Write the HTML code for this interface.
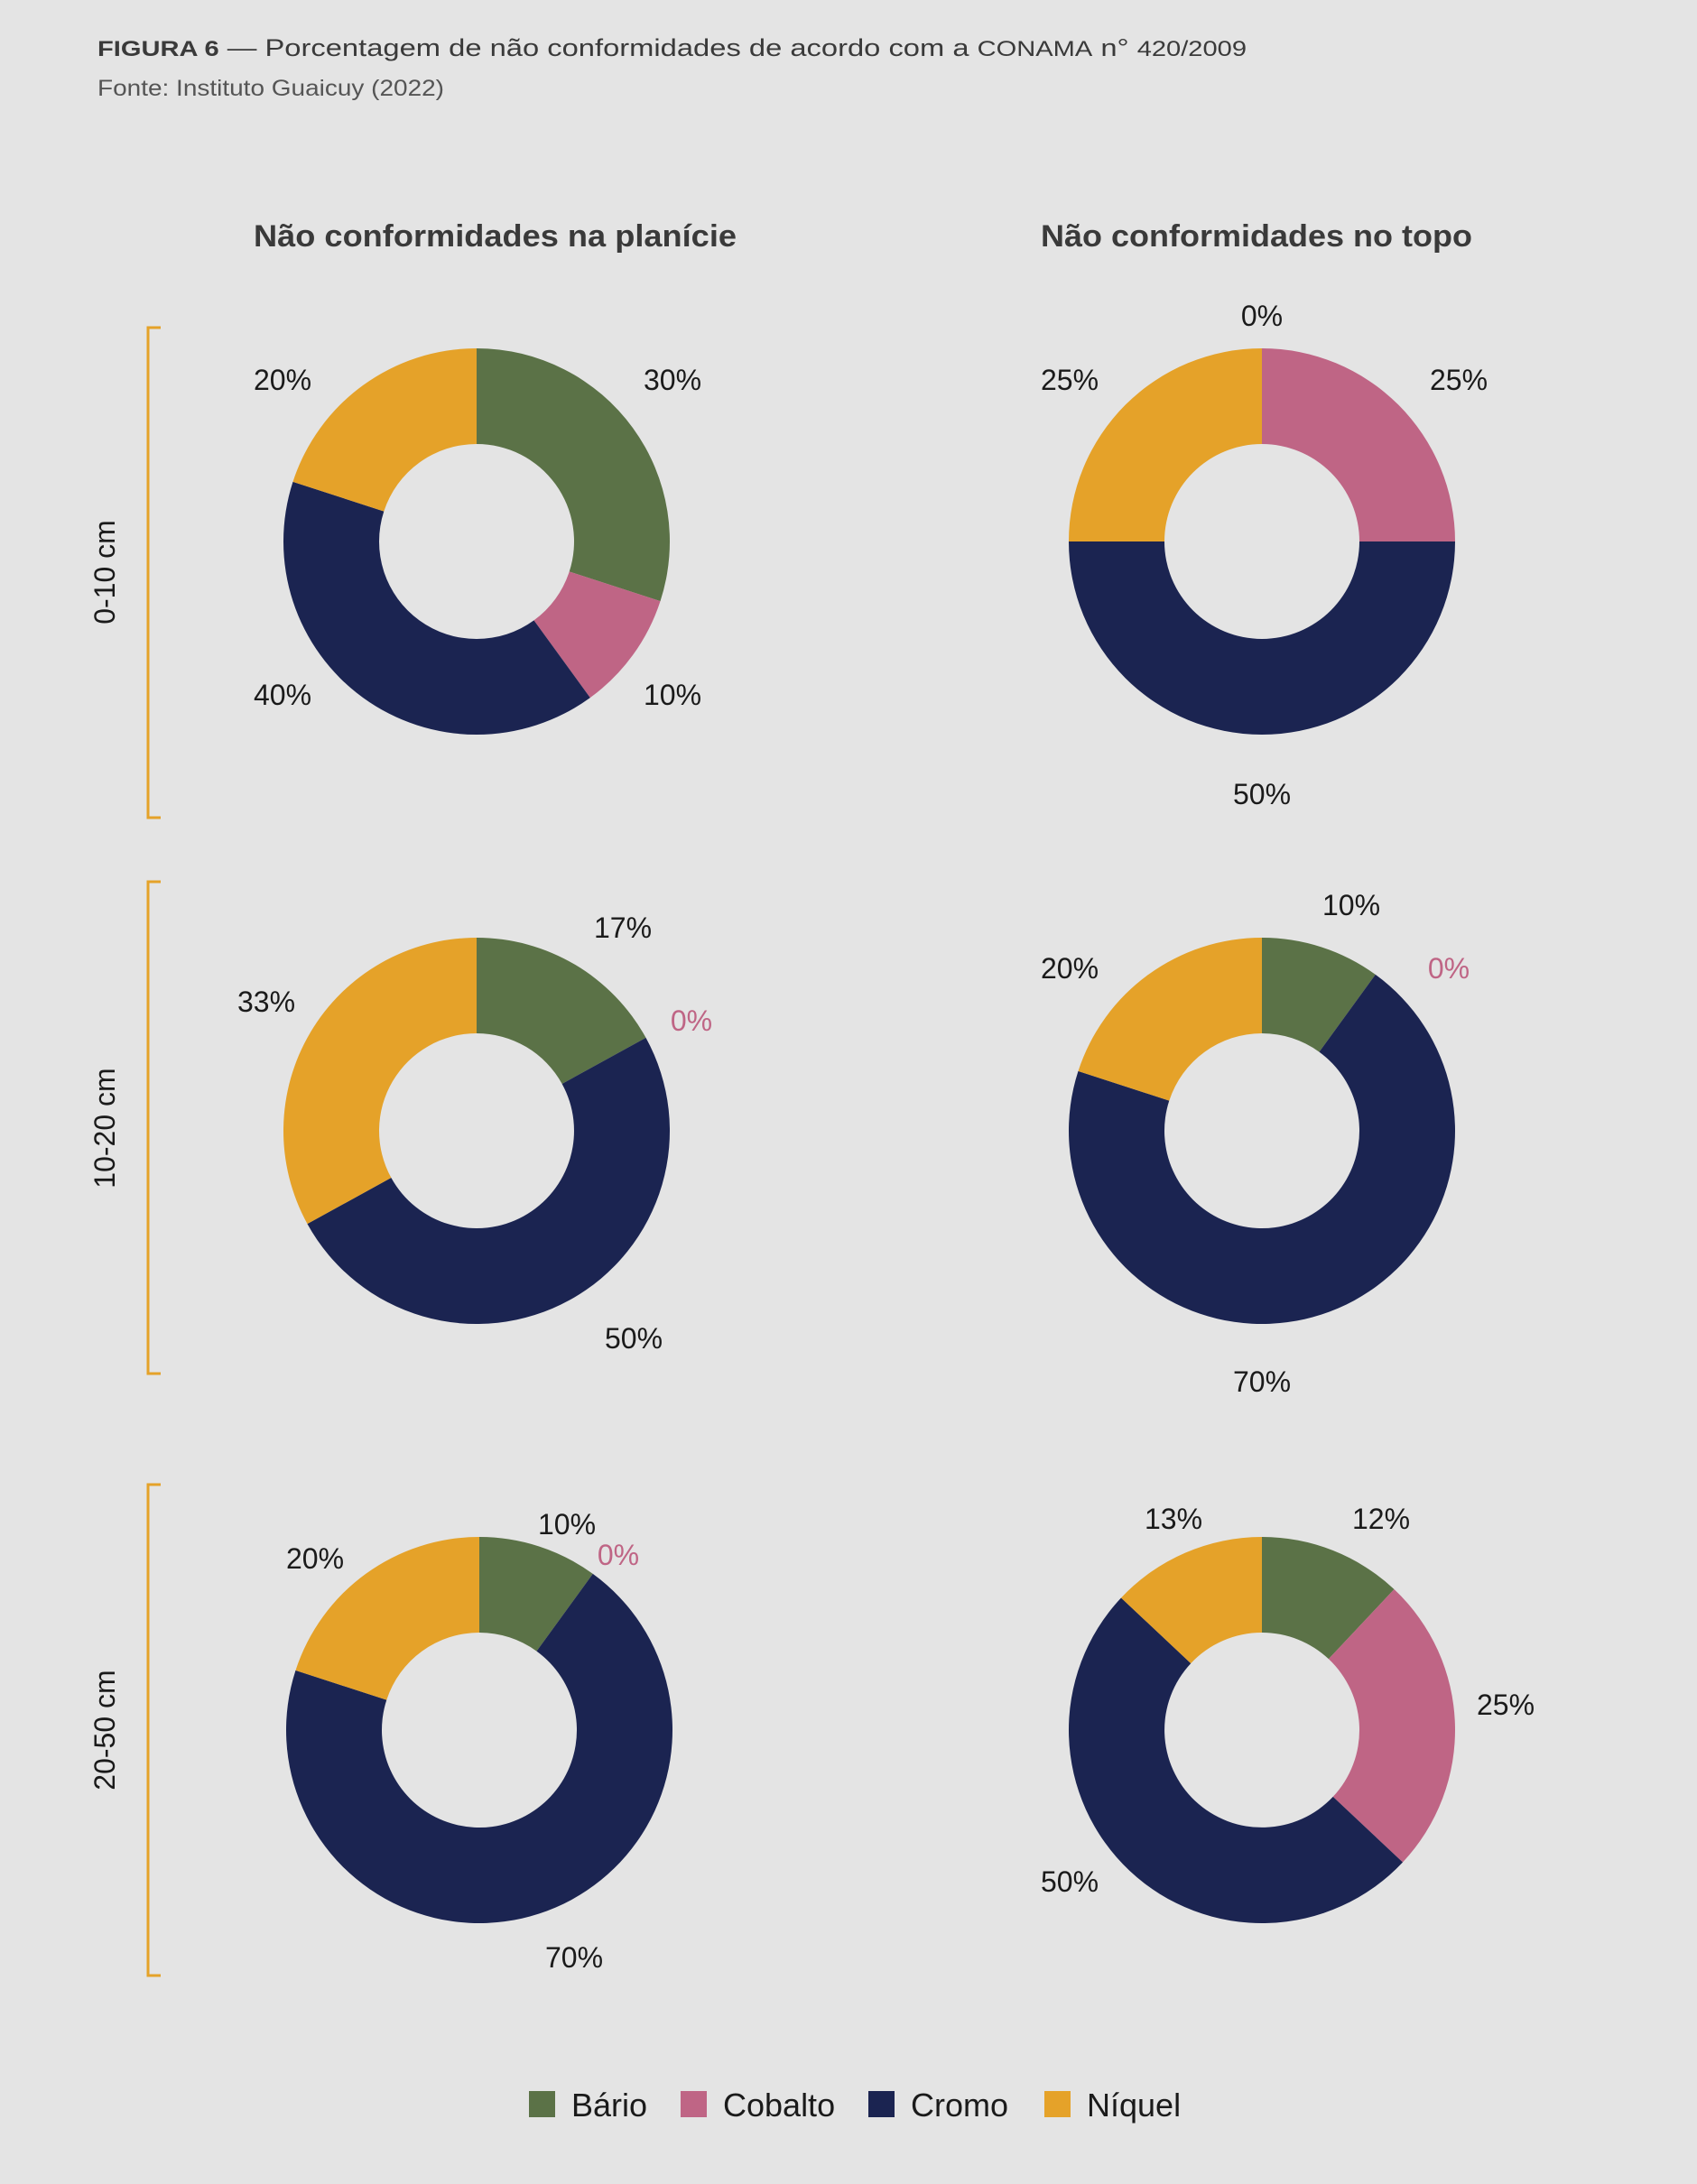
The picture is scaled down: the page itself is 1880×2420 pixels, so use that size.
<!DOCTYPE html>
<html><head><meta charset="utf-8">
<style>
html,body{margin:0;padding:0;background:#e4e4e4;}
svg{display:block;font-family:"Liberation Sans",sans-serif;}
</style></head>
<body>
<svg id="chart" width="1880" height="2420" viewBox="0 0 1880 2420">
<rect width="1880" height="2420" fill="#e4e4e4"/>
<text x="108" y="62" font-size="27" fill="#3a3a3a" textLength="1273" lengthAdjust="spacingAndGlyphs"><tspan font-weight="bold" font-size="24">FIGURA 6</tspan> — Porcentagem de não conformidades de acordo com a <tspan font-size="24">CONAMA</tspan> n° <tspan font-size="24">420/2009</tspan></text>
<text x="108" y="106" font-size="25" fill="#555" textLength="384" lengthAdjust="spacingAndGlyphs">Fonte: Instituto Guaicuy (2022)</text>
<text x="281" y="273" font-size="34" font-weight="bold" fill="#3a3a3a" textLength="535" lengthAdjust="spacingAndGlyphs">Não conformidades na planície</text>
<text x="1153" y="273" font-size="34" font-weight="bold" fill="#3a3a3a" textLength="478" lengthAdjust="spacingAndGlyphs">Não conformidades no topo</text>
<g id="charts"></g>
<g id="legend"></g>
</svg>
<script>
const categories = ["Bário","Cobalto","Cromo","Níquel"];
const colors = ["#5b7247","#bf6585","#1b2451","#e5a229"];
const depthLabels = ["0-10 cm","10-20 cm","20-50 cm"];
const planicie0_10 = [30,10,40,20];
const topo0_10 = [0,25,50,25];
const planicie10_20 = [17,0,50,33];
const topo10_20 = [10,0,70,20];
const planicie20_50 = [10,0,70,20];
const topo20_50 = [12,25,50,13];

const NS = "http://www.w3.org/2000/svg";
const R = 214, r = 108;
const charts = [
  {name:"planicie-0-10", vals:planicie0_10, cx:528, cy:600, lab:[[745,421],[745,770],[313,770],[313,421]]},
  {name:"topo-0-10", vals:topo0_10, cx:1398, cy:600, lab:[[1398,350],[1616,421],[1398,880],[1185,421]]},
  {name:"planicie-10-20", vals:planicie10_20, cx:528, cy:1253, lab:[[690,1028],[766,1131],[702,1483],[295,1110]]},
  {name:"topo-10-20", vals:topo10_20, cx:1398, cy:1253, lab:[[1497,1003],[1605,1073],[1398,1531],[1185,1073]]},
  {name:"planicie-20-50", vals:planicie20_50, cx:531, cy:1917, lab:[[628,1689],[685,1723],[636,2169],[349,1727]]},
  {name:"topo-20-50", vals:topo20_50, cx:1398, cy:1917, lab:[[1530,1683],[1668,1889],[1185,2085],[1300,1683]]}
];
const g = document.getElementById("charts");
function pt(cx,cy,rad,a){return [cx+rad*Math.sin(a), cy-rad*Math.cos(a)];}
charts.forEach(c=>{
  const grp = document.createElementNS(NS,"g");
  
  
  g.appendChild(grp);
  const tot = c.vals.reduce((a,b)=>a+b,0);
  let acc = 0;
  c.vals.forEach((v,i)=>{
    const a0 = acc/tot*2*Math.PI; acc += v; const a1 = acc/tot*2*Math.PI;
    if(v>0){
      const large = (a1-a0)>Math.PI?1:0;
      const p0=pt(c.cx,c.cy,R,a0), p1=pt(c.cx,c.cy,R,a1), q1=pt(c.cx,c.cy,r,a1), q0=pt(c.cx,c.cy,r,a0);
      const path = document.createElementNS(NS,"path");
      path.setAttribute("d",`M${p0[0]},${p0[1]} A${R},${R} 0 ${large} 1 ${p1[0]},${p1[1]} L${q1[0]},${q1[1]} A${r},${r} 0 ${large} 0 ${q0[0]},${q0[1]} Z`);
      path.setAttribute("fill",colors[i]);
      
      
      grp.appendChild(path);
    }
    const t = document.createElementNS(NS,"text");
    t.setAttribute("x",c.lab[i][0]); t.setAttribute("y",c.lab[i][1]);
    t.setAttribute("font-size","32"); t.setAttribute("text-anchor","middle");
    t.setAttribute("dominant-baseline","central");
    t.setAttribute("fill", (v===0 && i===1 && c.name!=="topo-0-10") ? "#bf6585" : "#1a1a1a");
    t.textContent = v+"%";
    
    
    grp.appendChild(t);
  });
});
const br = [[363,906,634],[977,1522,1250],[1645,2189,1917]];
br.forEach((b,i)=>{
  const p = document.createElementNS(NS,"path");
  p.setAttribute("d",`M178,${b[0]} H164 V${b[1]} H178`);
  p.setAttribute("fill","none"); p.setAttribute("stroke","#e5a229"); p.setAttribute("stroke-width","3");
  
  
  g.appendChild(p);
  const t = document.createElementNS(NS,"text");
  t.setAttribute("transform",`translate(116,${b[2]}) rotate(-90)`);
  t.setAttribute("font-size","32"); t.setAttribute("text-anchor","middle");
  t.setAttribute("dominant-baseline","central"); t.setAttribute("fill","#1a1a1a");
  t.textContent = depthLabels[i];
  
  
  g.appendChild(t);
});
const lg = document.getElementById("legend");


const lx = [586,754,962,1157];
categories.forEach((c,i)=>{
  const s = document.createElementNS(NS,"rect");
  s.setAttribute("x",lx[i]); s.setAttribute("y",2317); s.setAttribute("width",29); s.setAttribute("height",29);
  s.setAttribute("fill",colors[i]);
  
  
  lg.appendChild(s);
  const t = document.createElementNS(NS,"text");
  t.setAttribute("x",lx[i]+47); t.setAttribute("y",2345);
  t.setAttribute("font-size","36"); t.setAttribute("fill","#1a1a1a");
  t.textContent = c;
  
  
  lg.appendChild(t);
});
</script>
</body></html>
